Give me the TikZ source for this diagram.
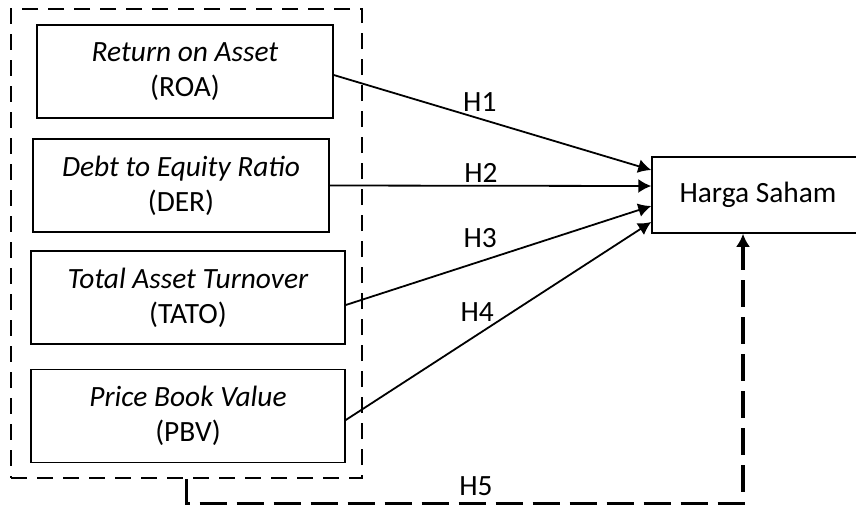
\documentclass[tikz,border=0pt]{standalone}
\usepackage{fontspec}
\setmainfont{Carlito}
\usetikzlibrary{arrows.meta,positioning,fit}

\tikzset{
  var/.style={draw, line width=0.75pt, align=center, minimum height=46.5pt, inner sep=0pt},
  hyp/.style={-{Latex[length=6.5pt,width=7pt]}, line width=0.9pt},
  lbl/.style={anchor=south, inner sep=1pt},
  grp/.style={draw, line width=1.3pt, dash pattern=on 8pt off 5pt},
}

\begin{document}
\begin{tikzpicture}[x=0.5pt,y=-0.5pt,font=\fontsize{14.7}{17.5}\selectfont]
  \useasboundingbox (0,0) rectangle (856,505);
% Independent variables
  \node[var, minimum width=148pt] (roa) at (185,71.5) {\textit{Return on Asset}\\(ROA)};
  \node[var, minimum width=148pt] (der) at (181,185.5) {\textit{Debt to Equity Ratio}\\(DER)};
  \node[var, minimum width=157pt] (tato) at (188,297.5) {\textit{Total Asset Turnover}\\(TATO)};
  \node[var, minimum width=157pt] (pbv) at (188,416) {\textit{Price Book Value}\\(PBV)};
  \node[grp, minimum width=175.5pt, minimum height=234.5pt] (ind) at (186.5,243.5) {};
% Dependent variable
  \node[var, minimum width=106pt, minimum height=38pt] (harga) at (758,195) {Harga Saham};
% Hypotheses
  \draw[hyp] ([yshift=-1.75pt]roa.east) -- node[lbl, pos=0.46, yshift=2pt]{H1} ([yshift=12.5pt]harga.west);
  \draw[hyp] (der.east) -- node[lbl, pos=0.47]{H2} ([yshift=4.5pt]harga.west);
  \draw[hyp] ([yshift=-3.75pt]tato.east) -- node[lbl, pos=0.44, yshift=5.5pt]{H3} ([yshift=-5.5pt]harga.west);
  \draw[hyp] ([yshift=-2pt]pbv.east) -- node[lbl, pos=0.43, yshift=5pt]{H4} ([yshift=-13.5pt]harga.west);
  \draw[hyp, line width=1.6pt, dash pattern=on 13.5pt off 5pt] (ind.south) -- ++(0,24)
    -| node[lbl, pos=0.26, yshift=2pt]{H5} ([xshift=-7.5pt]harga.south);
\end{tikzpicture}
\end{document}
